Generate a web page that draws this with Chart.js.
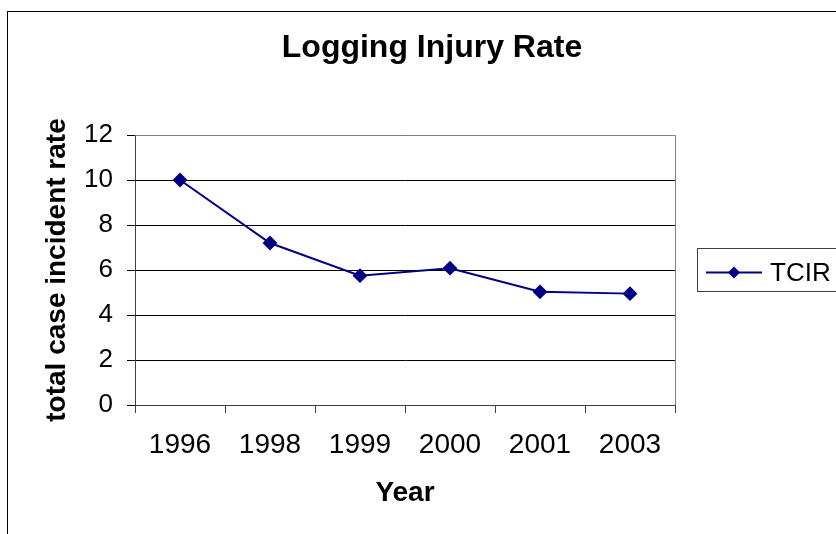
<!DOCTYPE html>
<html>
<head>
<meta charset="utf-8">
<script src="https://cdn.jsdelivr.net/npm/chart.js@4"></script>
<style>
  body { margin: 0; background: #fff; }
  canvas { display: block; }
</style>
</head>
<body>
<canvas id="injuryChart" width="836" height="534"></canvas>
<script>
const years = ["1996", "1998", "1999", "2000", "2001", "2003"];
const tcirValues = [10, 7.2, 5.75, 6.08, 5.03, 4.95];
const seriesName = "TCIR";
const chartTitle = "Logging Injury Rate";

const FONT = "'Liberation Sans', Arial, sans-serif";
const NAVY = "#000080";

// white page, outer border, title and legend box
const frame = {
  id: "frame",
  beforeDraw(chart) {
    const ctx = chart.ctx;
    ctx.save();
    ctx.fillStyle = "#fff";
    ctx.fillRect(0, 0, chart.width, chart.height);
    ctx.restore();
  },
  afterDraw(chart) {
    const ctx = chart.ctx;
    const a = chart.chartArea;
    ctx.save();
    ctx.strokeStyle = "#000";
    ctx.lineWidth = 1;
    ctx.strokeRect(7.5, 11.5, chart.width + 20, chart.height + 20);

    // title
    ctx.fillStyle = "#000";
    ctx.font = "bold 32px " + FONT;
    ctx.textAlign = "center";
    ctx.textBaseline = "alphabetic";
    ctx.fillText(chartTitle, 432, 57);

    // plot area border (top/right)
    ctx.strokeStyle = "#808080";
    ctx.beginPath();
    ctx.moveTo(a.left, a.top + 0.5);
    ctx.lineTo(a.right + 0.5, a.top + 0.5);
    ctx.lineTo(a.right + 0.5, a.bottom);
    ctx.stroke();

    // legend box
    ctx.strokeStyle = "#404040";
    ctx.strokeRect(697.5, 248.5, 160, 43);
    const ly = 272.5;
    ctx.strokeStyle = NAVY;
    ctx.lineWidth = 2;
    ctx.beginPath();
    ctx.moveTo(706, ly);
    ctx.lineTo(762, ly);
    ctx.stroke();
    ctx.fillStyle = NAVY;
    ctx.beginPath();
    ctx.moveTo(734, ly - 6);
    ctx.lineTo(740, ly);
    ctx.lineTo(734, ly + 6);
    ctx.lineTo(728, ly);
    ctx.closePath();
    ctx.fill();
    ctx.fillStyle = "#000";
    ctx.font = "26px " + FONT;
    ctx.textAlign = "left";
    ctx.textBaseline = "middle";
    ctx.fillText(chart.data.datasets[0].label, 770, ly + 1);
    ctx.restore();
  }
};

new Chart(document.getElementById("injuryChart"), {
  type: "line",
  data: {
    labels: years,
    datasets: [{
      label: seriesName,
      data: tcirValues,
      borderColor: NAVY,
      backgroundColor: NAVY,
      borderWidth: 2,
      pointStyle: "rectRot",
      pointRadius: 6,
      pointBackgroundColor: NAVY,
      pointBorderColor: NAVY,
      tension: 0
    }]
  },
  options: {
    responsive: false,
    animation: false,
    layout: { padding: { left: 20, right: 161, top: 135, bottom: 0 } },
    plugins: {
      legend: { display: false },
      tooltip: { enabled: false },
      title: { display: false }
    },
    scales: {
      x: {
        offset: true,
        grid: { offset: true, drawOnChartArea: false, tickLength: 8, color: "#404040" },
        border: { color: "#404040" },
        ticks: { color: "#000", font: { family: FONT, size: 28 }, padding: 15, maxRotation: 0 },
        title: {
          display: true,
          text: "Year",
          color: "#000",
          font: { family: FONT, size: 28, weight: "bold" },
          padding: { bottom: 24 }
        },
        afterFit(scale) { scale.height = 129; }
      },
      y: {
        min: 0,
        max: 12,
        ticks: { stepSize: 2, color: "#000", font: { family: FONT, size: 26 }, padding: 14 },
        grid: { color: "#000", tickLength: 8 },
        border: { color: "#404040" },
        title: {
          display: true,
          text: "total case incident rate",
          color: "#000",
          font: { family: FONT, size: 28, weight: "bold" },
          padding: { top: 20 }
        },
        afterFit(scale) { scale.width = 115; }
      }
    }
  },
  plugins: [frame]
});
</script>
</body>
</html>
